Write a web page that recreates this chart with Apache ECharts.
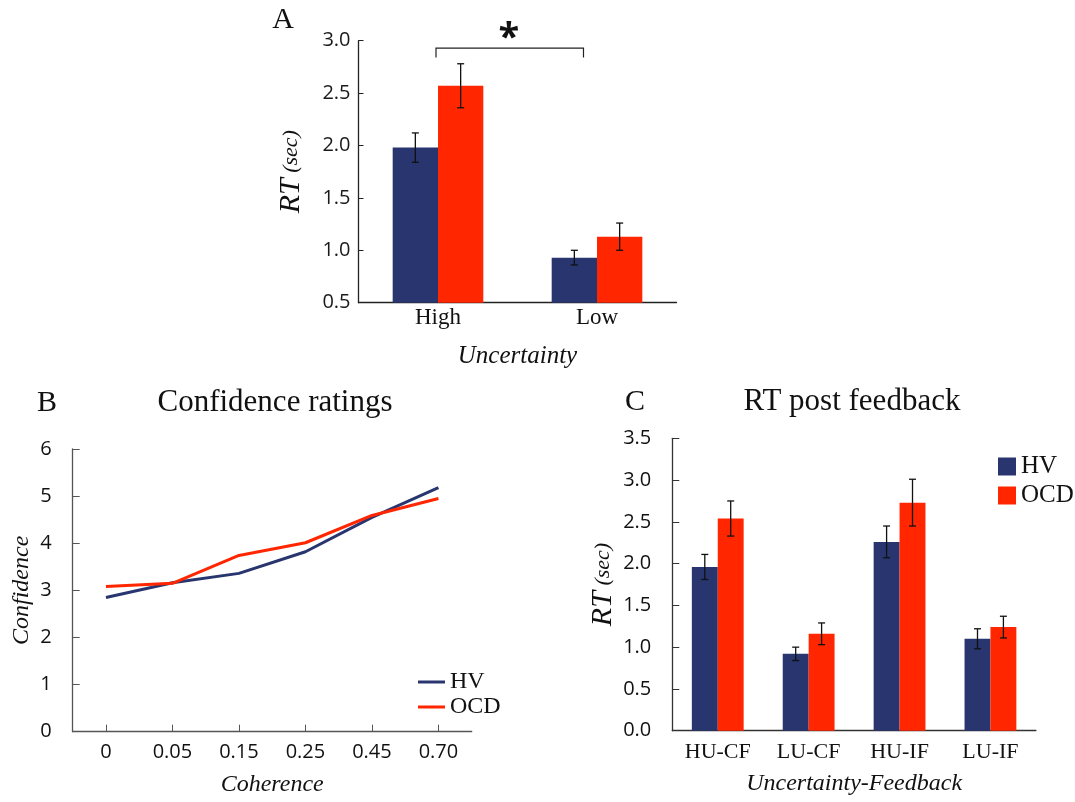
<!DOCTYPE html>
<html>
<head>
<meta charset="utf-8">
<script src="https://cdn.jsdelivr.net/npm/echarts@6/dist/echarts.min.js"></script>
<style>
html,body{margin:0;padding:0;background:#fff;}
#chart{width:1075px;height:802px;}
</style>
</head>
<body>
<div id="chart"></div>
<script>
// ---------- Data ----------
const catsA = ['High', 'Low'];
const aHV = [1.98, 0.93];
const aHVErr = [0.14, 0.07];
const aOCD = [2.57, 1.13];
const aOCDErr = [0.21, 0.13];

const catsB = ['0', '0.05', '0.15', '0.25', '0.45', '0.70'];
const bHV = [2.85, 3.16, 3.36, 3.82, 4.55, 5.18];
const bOCD = [3.08, 3.15, 3.74, 4.01, 4.59, 4.95];

const catsC = ['HU-CF', 'LU-CF', 'HU-IF', 'LU-IF'];
const cHV = [1.96, 0.92, 2.26, 1.10];
const cHVErr = [0.15, 0.08, 0.19, 0.12];
const cOCD = [2.54, 1.16, 2.73, 1.24];
const cOCDErr = [0.21, 0.13, 0.28, 0.13];

const ticksA = { min: 0.5, max: 3.0, interval: 0.5 };
const ticksB = { min: 0, max: 6, interval: 1 };
const ticksC = { min: 0, max: 3.5, interval: 0.5 };

// ---------- Styles ----------
const NAVY = '#28356F';
const RED = '#FF2600';
const SERIF = '"Liberation Serif", "DejaVu Serif", serif';
const SANS = '"Open Sans", Lato, sans-serif';
const CAT_GAP = 0.43;

function errData(means, errs) {
  return means.map((m, i) => [i, m - errs[i], m + errs[i]]);
}
function errRender(sign) {
  return function (params, api) {
    const x = api.value(0), lo = api.value(1), hi = api.value(2);
    const band = api.size([1, 0])[0];
    const bw = band * (1 - CAT_GAP) / 2;
    const pHi = api.coord([x, hi]);
    const pLo = api.coord([x, lo]);
    const cx = pHi[0] + sign * bw / 2;
    const cap = 3.5;
    const st = { stroke: '#111', lineWidth: 1.3 };
    return {
      type: 'group',
      children: [
        { type: 'line', shape: { x1: cx, y1: pHi[1], x2: cx, y2: pLo[1] }, style: st },
        { type: 'line', shape: { x1: cx - cap, y1: pHi[1], x2: cx + cap, y2: pHi[1] }, style: st },
        { type: 'line', shape: { x1: cx - cap, y1: pLo[1], x2: cx + cap, y2: pLo[1] }, style: st }
      ]
    };
  };
}
function rtName() {
  return {
    name: '{a|RT}{b| (sec)}',
    nameTextStyle: {
      rich: {
        a: { fontFamily: SERIF, fontStyle: 'italic', fontSize: 30, color: '#111' },
        b: { fontFamily: SERIF, fontStyle: 'italic', fontSize: 22, color: '#111' }
      }
    }
  };
}
const axisLineStyle = (c) => ({ show: true, lineStyle: { color: c, width: 1.3 } });

const chart = echarts.init(document.getElementById('chart'), null, { renderer: 'canvas' });

const option = {
  animation: false,
  backgroundColor: '#fff',
  grid: [
    { left: 358.5, top: 40.7, width: 318, height: 262 },
    { left: 72.7, top: 449, width: 399, height: 282.7 },
    { left: 672.3, top: 438.3, width: 363.6, height: 292.4 }
  ],
  xAxis: [
    {
      gridIndex: 0, type: 'category', data: catsA,
      axisLine: axisLineStyle('#222'), axisTick: { show: false },
      axisLabel: { fontFamily: SERIF, fontSize: 23, color: '#111', margin: 4 },
      name: 'Uncertainty', nameLocation: 'middle', nameGap: 41,
      nameTextStyle: { fontFamily: SERIF, fontStyle: 'italic', fontSize: 25, color: '#111' }
    },
    {
      gridIndex: 1, type: 'category', data: catsB, boundaryGap: true,
      axisLine: axisLineStyle('#555'),
      axisTick: { show: true, inside: true, alignWithLabel: true, length: 7, lineStyle: { color: '#555' } },
      axisLabel: { fontFamily: SANS, fontSize: 20, color: '#111', margin: 11, interval: 0 },
      name: 'Coherence', nameLocation: 'middle', nameGap: 41,
      nameTextStyle: { fontFamily: SERIF, fontStyle: 'italic', fontSize: 24, color: '#111' }
    },
    {
      gridIndex: 2, type: 'category', data: catsC,
      axisLine: axisLineStyle('#333'), axisTick: { show: false },
      axisLabel: { fontFamily: SERIF, fontSize: 22, color: '#111', margin: 11, interval: 0 },
      name: 'Uncertainty-Feedback', nameLocation: 'middle', nameGap: 41,
      nameTextStyle: { fontFamily: SERIF, fontStyle: 'italic', fontSize: 24, color: '#111' }
    }
  ],
  yAxis: [
    Object.assign({
      gridIndex: 0, type: 'value', min: ticksA.min, max: ticksA.max, interval: ticksA.interval,
      axisLine: axisLineStyle('#222'),
      axisTick: { show: true, inside: true, length: 5, lineStyle: { color: '#222' } },
      axisLabel: { fontFamily: SANS, fontSize: 20, color: '#1a1a1a', margin: 8, formatter: v => v.toFixed(1) },
      splitLine: { show: false },
      nameLocation: 'middle', nameGap: 52
    }, rtName()),
    {
      gridIndex: 1, type: 'value', min: ticksB.min, max: ticksB.max, interval: ticksB.interval,
      axisLine: axisLineStyle('#555'),
      axisTick: { show: true, inside: true, length: 7, lineStyle: { color: '#555' } },
      axisLabel: { fontFamily: SANS, fontSize: 20, color: '#111', margin: 21 },
      splitLine: { show: false },
      name: 'Confidence', nameLocation: 'middle', nameGap: 39,
      nameTextStyle: { fontFamily: SERIF, fontStyle: 'italic', fontSize: 24, color: '#111' }
    },
    Object.assign({
      gridIndex: 2, type: 'value', min: ticksC.min, max: ticksC.max, interval: ticksC.interval,
      axisLine: axisLineStyle('#333'),
      axisTick: { show: true, inside: true, length: 7, lineStyle: { color: '#333' } },
      axisLabel: { fontFamily: SANS, fontSize: 20, color: '#111', margin: 21, formatter: v => v.toFixed(1) },
      splitLine: { show: false },
      nameLocation: 'middle', nameGap: 54
    }, rtName())
  ],
  legend: [
    {
      orient: 'vertical', left: 413, top: 665, itemWidth: 27, itemHeight: 3, itemGap: 1,
      data: [{ name: 'HV', icon: 'rect' }, { name: 'OCD', icon: 'rect' }],
      textStyle: { fontFamily: SERIF, fontSize: 24, color: '#111' },
      selectedMode: false
    },
    {
      orient: 'vertical', left: 993, top: 449, itemWidth: 18, itemHeight: 18, itemGap: 4,
      data: [{ name: 'HV', icon: 'rect' }, { name: 'OCD', icon: 'rect' }],
      textStyle: { fontFamily: SERIF, fontSize: 25, color: '#111' },
      selectedMode: false
    }
  ],
  series: [
    { type: 'bar', name: 'HV', xAxisIndex: 0, yAxisIndex: 0, data: aHV, barGap: '0%', barCategoryGap: '43%', itemStyle: { color: NAVY } },
    { type: 'bar', name: 'OCD', xAxisIndex: 0, yAxisIndex: 0, data: aOCD, barGap: '0%', barCategoryGap: '43%', itemStyle: { color: RED } },
    { type: 'custom', name: 'errA1', xAxisIndex: 0, yAxisIndex: 0, data: errData(aHV, aHVErr), renderItem: errRender(-1), z: 5 },
    { type: 'custom', name: 'errA2', xAxisIndex: 0, yAxisIndex: 0, data: errData(aOCD, aOCDErr), renderItem: errRender(1), z: 5 },

    { type: 'line', name: 'HV', xAxisIndex: 1, yAxisIndex: 1, data: bHV, showSymbol: false, symbol: 'none', lineStyle: { color: NAVY, width: 3 }, itemStyle: { color: NAVY } },
    { type: 'line', name: 'OCD', xAxisIndex: 1, yAxisIndex: 1, data: bOCD, showSymbol: false, symbol: 'none', lineStyle: { color: RED, width: 3 }, itemStyle: { color: RED } },

    { type: 'bar', name: 'HV', xAxisIndex: 2, yAxisIndex: 2, data: cHV, barGap: '0%', barCategoryGap: '43%', itemStyle: { color: NAVY } },
    { type: 'bar', name: 'OCD', xAxisIndex: 2, yAxisIndex: 2, data: cOCD, barGap: '0%', barCategoryGap: '43%', itemStyle: { color: RED } },
    { type: 'custom', name: 'errC1', xAxisIndex: 2, yAxisIndex: 2, data: errData(cHV, cHVErr), renderItem: errRender(-1), z: 5 },
    { type: 'custom', name: 'errC2', xAxisIndex: 2, yAxisIndex: 2, data: errData(cOCD, cOCDErr), renderItem: errRender(1), z: 5 }
  ]
};
chart.setOption(option);

// ---------- Annotations ----------
const p0 = chart.convertToPixel({ xAxisIndex: 0, yAxisIndex: 0 }, [0, 2.93]);
const p1 = chart.convertToPixel({ xAxisIndex: 0, yAxisIndex: 0 }, [1, 2.84]);
const band = chart.convertToPixel({ xAxisIndex: 0 }, 1) - chart.convertToPixel({ xAxisIndex: 0 }, 0);
const bx1 = p0[0] - 2, bx2 = p1[0] - band * 0.085;
const by = p0[1], byLeg = p1[1];
const lineSt = { stroke: '#222', lineWidth: 1.2, fill: null };

chart.setOption({
  graphic: [
    { type: 'polyline', shape: { points: [[bx1, byLeg], [bx1, by], [bx2, by], [bx2, byLeg]] }, style: lineSt, silent: true },
    { type: 'text', x: (bx1 + bx2) / 2 - 1, y: by - 9, style: { text: '*', font: 'bold 38px ' + SANS, fill: '#111', align: 'center', verticalAlign: 'middle' } },
    { type: 'text', x: 283, y: 20, style: { text: 'A', font: '30px ' + SERIF, fill: '#111', align: 'center', verticalAlign: 'middle' } },
    { type: 'text', x: 47, y: 403, style: { text: 'B', font: '30px ' + SERIF, fill: '#111', align: 'center', verticalAlign: 'middle' } },
    { type: 'text', x: 275, y: 403, style: { text: 'Confidence ratings', font: '31px ' + SERIF, fill: '#111', align: 'center', verticalAlign: 'middle' } },
    { type: 'text', x: 635, y: 402, style: { text: 'C', font: '30px ' + SERIF, fill: '#111', align: 'center', verticalAlign: 'middle' } },
    { type: 'text', x: 852, y: 402, style: { text: 'RT post feedback', font: '31px ' + SERIF, fill: '#111', align: 'center', verticalAlign: 'middle' } }
  ]
});
</script>
</body>
</html>
